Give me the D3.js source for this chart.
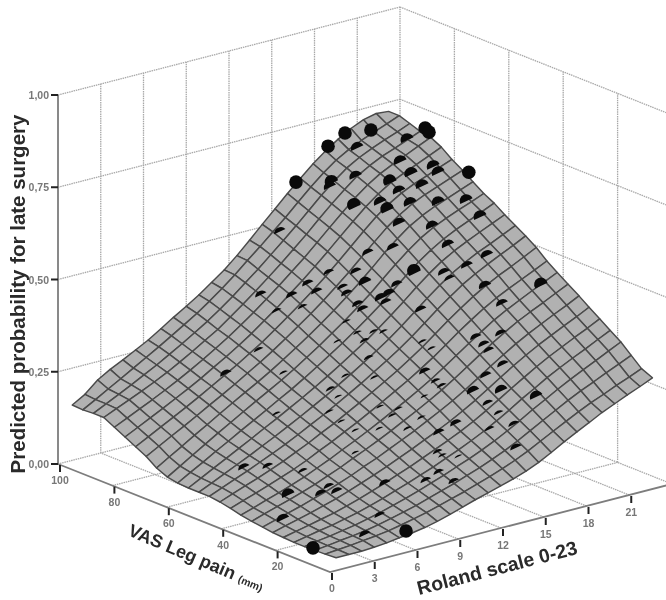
<!DOCTYPE html>
<html>
<head>
<meta charset="utf-8">
<style>
html, body { margin: 0; padding: 0; background: #fff; overflow: hidden; }
svg { display: block; filter: blur(0.35px); font-family: "Liberation Sans", Arial, sans-serif; }
</style>
<script src="https://cdn.jsdelivr.net/npm/d3@7"></script>
</head>
<body>
<div id="chart"></div>
<script>
const rolandTicks = [0, 3, 6, 9, 12, 15, 18, 21];
const vasTicks = [0, 20, 40, 60, 80, 100];
const probTicks = [0, 0.25, 0.5, 0.75, 1];
const probLabels = ['0,00', '0,25', '0,50', '0,75', '1,00'];

// mesh lines of the fitted surface
const rolandGrid = [1, 1.89, 2.78, 3.66, 4.55, 5.44, 6.33, 7.22, 8.1, 9, 9.88, 10.77, 11.66, 12.55, 13.44, 14.33, 15.22, 16.1, 17, 17.9, 18.77, 19.66, 20.55, 21.44, 22.33, 23.2];
const vasGrid = [100, 96.1, 92.2, 88.4, 84.5, 80.6, 76.7, 72.8, 69, 65, 61.2, 57.3, 53.4, 49.6, 45.7, 41.8, 38, 34, 30, 26.3, 22.4, 18.5, 14.6, 10.8, 7, 3];

// predicted probability, one row per vasGrid value, one column per rolandGrid value
const surface = [
[.15,.17,.20,.22,.237,.255,.273,.295,.317,.338,.36,.385,.41,.44,.473,.507,.54,.573,.605,.636,.662,.685,.705,.72,.728,.725],
[.148,.167,.187,.206,.226,.246,.266,.287,.308,.33,.354,.38,.408,.438,.467,.498,.528,.561,.593,.623,.648,.668,.684,.698,.711,.725],
[.15,.167,.184,.201,.219,.237,.257,.277,.298,.32,.344,.37,.398,.426,.456,.486,.517,.549,.582,.612,.638,.658,.674,.688,.701,.715],
[.15,.165,.18,.195,.211,.228,.247,.267,.288,.309,.334,.36,.387,.415,.444,.474,.505,.538,.57,.60,.627,.647,.664,.677,.691,.705],
[.135,.151,.167,.183,.20,.218,.237,.257,.278,.30,.324,.349,.376,.404,.433,.462,.494,.526,.558,.589,.615,.637,.654,.669,.685,.70],
[.12,.137,.154,.171,.189,.207,.226,.247,.267,.289,.312,.338,.364,.392,.42,.45,.481,.513,.545,.576,.602,.624,.64,.655,.67,.685],
[.105,.123,.141,.159,.177,.196,.216,.236,.256,.278,.30,.325,.351,.377,.405,.434,.465,.497,.53,.561,.586,.607,.623,.636,.65,.663],
[.09,.109,.128,.146,.165,.185,.204,.224,.245,.266,.288,.312,.337,.362,.389,.418,.448,.48,.512,.543,.568,.589,.605,.618,.632,.645],
[.07,.091,.111,.132,.152,.173,.193,.213,.232,.253,.275,.298,.322,.347,.373,.401,.43,.461,.494,.523,.549,.569,.585,.598,.612,.625],
[.057,.078,.099,.12,.141,.161,.181,.201,.22,.24,.261,.284,.307,.332,.357,.384,.412,.443,.474,.503,.528,.548,.564,.578,.591,.605],
[.052,.072,.091,.111,.13,.15,.169,.188,.208,.227,.248,.27,.293,.316,.341,.367,.394,.424,.454,.483,.507,.528,.545,.56,.575,.59],
[.05,.068,.086,.104,.122,.14,.159,.177,.196,.215,.235,.256,.278,.301,.324,.35,.377,.405,.435,.463,.487,.507,.524,.54,.555,.57],
[.05,.066,.082,.098,.114,.131,.148,.166,.184,.203,.222,.243,.264,.286,.309,.333,.359,.387,.416,.443,.467,.487,.505,.52,.536,.552],
[.05,.064,.078,.092,.107,.122,.138,.155,.173,.191,.21,.23,.25,.272,.294,.317,.342,.369,.397,.423,.447,.467,.485,.502,.518,.535],
[.046,.059,.072,.084,.098,.112,.128,.144,.162,.179,.198,.217,.237,.257,.278,.301,.325,.351,.378,.403,.426,.447,.465,.481,.498,.515],
[.04,.052,.064,.076,.089,.102,.117,.134,.15,.168,.185,.204,.223,.243,.263,.285,.308,.333,.359,.383,.405,.425,.442,.458,.474,.49],
[.033,.044,.056,.067,.079,.092,.107,.122,.139,.155,.172,.19,.209,.227,.247,.268,.291,.315,.339,.363,.385,.404,.421,.438,.454,.47],
[.028,.039,.05,.06,.072,.084,.098,.112,.128,.143,.159,.176,.194,.212,.231,.251,.273,.296,.32,.343,.364,.384,.401,.417,.434,.45],
[.024,.034,.044,.054,.065,.076,.089,.102,.117,.131,.147,.163,.179,.197,.215,.234,.255,.277,.301,.323,.344,.363,.38,.397,.413,.43],
[.02,.029,.038,.047,.057,.067,.079,.092,.105,.119,.134,.149,.165,.181,.198,.217,.237,.259,.282,.304,.324,.343,.36,.377,.393,.41],
[.018,.026,.033,.041,.049,.059,.07,.082,.094,.108,.121,.136,.151,.166,.182,.20,.22,.241,.263,.284,.304,.323,.34,.357,.373,.39],
[.016,.023,.03,.036,.044,.052,.062,.073,.085,.097,.11,.123,.138,.152,.168,.185,.204,.224,.246,.266,.286,.304,.321,.337,.354,.37],
[.016,.022,.027,.033,.039,.047,.056,.066,.076,.088,.10,.112,.126,.139,.154,.17,.188,.207,.228,.247,.266,.284,.301,.317,.334,.35],
[.017,.021,.026,.03,.035,.042,.05,.059,.068,.079,.09,.101,.114,.126,.14,.155,.172,.191,.21,.229,.247,.264,.279,.295,.31,.325],
[.018,.021,.024,.028,.032,.037,.044,.052,.06,.07,.08,.09,.102,.113,.126,.14,.156,.174,.192,.21,.227,.243,.257,.272,.286,.30],
[.02,.02,.02,.022,.025,.03,.034,.04,.048,.058,.069,.08,.09,.10,.11,.122,.137,.155,.175,.193,.21,.228,.243,.258,.272,.287]
];

// patients: Roland score, VAS leg pain, predicted probability, share of the marker above the surface
const dotRoland = [1.67,6.29,16.7,18.95,20.14,21.96,22.9,23.17,23.1,14.55,19.96,22.5,17.2,17.1,18.9,21.07,19.4,20.04,20.88,20.7,22.43,21.82,17.84,18.71,18.25,19.86,20.87,21.88,21.9,18.13,19.5,19.66,16.76,15.96,20.49,19.09,17.28,18.43,17.89,19.4,15.12,14.18,14.79,16.08,12.7,14.2,13.33,21.4,11.31,12.53,14.48,12.35,11.48,15.92,16.48,15.31,14.3,14.65,16.81,19.64,13.53,13.35,13.52,14.22,12.88,11.94,15.05,15.68,9.26,12.21,17.81,18.61,17.42,17.77,17.8,16.6,14.23,9.11,6.95,10.6,11.68,14.05,13.52,14.74,15.75,17.25,9.54,10.1,13.28,14.84,11.14,11.45,14.65,8.52,6.71,11.03,12.11,12.59,8.41,14.75,14.02,10.12,11.13,11.4,8.44,13.94,10.37,10.72,10.89,7.48,9.49,7.61,8.58,9.59,5.19,5.35,4.29,3.44,4.17,4.72,3.66,5.02,5.59,2.36];
const dotVas = [15,5,100,100,100,100,85,85,70,95,95,90,90,90,90,85,80,80,80,75,80,75,85,80,75,75,70,65,60,70,65,60,65,70,50,50,60,55,50,45,70,75,65,60,75,70,75,35,85,80,70,75,80,65,65,60,65,65,55,40,65,60,55,55,55,60,45,45,75,50,40,35,35,35,30,30,40,65,75,50,45,35,30,25,20,15,50,50,35,20,40,35,15,45,55,35,30,20,40,10,15,35,30,20,35,5,15,15,10,30,10,20,10,5,25,10,10,50,45,35,35,30,30,30];
const dotProb = [.005,.034,.598,.673,.697,.687,.727,.713,.649,.505,.68,.692,.63,.616,.627,.661,.638,.605,.645,.629,.649,.653,.574,.588,.589,.589,.596,.606,.577,.566,.559,.521,.527,.506,.514,.499,.474,.472,.475,.456,.463,.455,.454,.448,.44,.429,.412,.471,.395,.395,.41,.379,.362,.399,.405,.407,.397,.38,.387,.42,.356,.342,.358,.351,.34,.332,.345,.32,.293,.315,.346,.363,.345,.325,.302,.284,.289,.261,.253,.282,.281,.278,.285,.276,.283,.267,.257,.23,.243,.255,.222,.228,.244,.22,.203,.214,.212,.223,.209,.228,.207,.187,.192,.21,.199,.188,.181,.167,.177,.163,.15,.11,.137,.139,.098,.075,.034,.107,.117,.127,.078,.079,.092,.038];
const dotShown = [1,1,1,1,1,1,1,1,1,.3,.45,.5,.6,.4,.45,.5,.65,.45,.55,.5,.5,.5,.7,.45,.65,.5,.5,.5,.5,.45,.45,.4,.35,.3,.4,.35,.7,.35,.25,.4,.3,.25,.45,.3,.3,.25,.3,.6,.3,.3,.3,.2,.2,.4,.4,.3,.3,.3,.3,.35,.15,.15,.15,.15,.2,.12,.15,.15,.2,.2,.3,.3,.3,.25,.3,.3,.3,.15,.3,.15,.15,.2,.2,.4,.45,.45,.2,.12,.12,.25,.12,.15,.2,.15,.15,.15,.15,.3,.12,.25,.2,.12,.15,.3,.12,.3,.2,.15,.12,.12,.25,.3,.25,.25,.3,.25,.3,.3,.25,.2,.5,.3,.25,.4];

var width = 666,
    height = 600,
    dotRadius = 6.8;

// the box is drawn without perspective, each data axis adds a fixed screen offset
var originX = 330, originY = 572;
var rolandToX = d3.scaleLinear().domain([0, 24]).range([0, 342]);
var rolandToY = d3.scaleLinear().domain([0, 24]).range([0, -88]);
var vasToX = d3.scaleLinear().domain([0, 100]).range([0, -272]);
var vasToY = d3.scaleLinear().domain([0, 100]).range([0, -108]);
var probToY = d3.scaleLinear().domain([0, 1]).range([0, -369]);

function project(r, v, p) {
  return [originX + rolandToX(r) + vasToX(v), originY + rolandToY(r) + vasToY(v) + probToY(p)];
}

var svg = d3.select('#chart').append('svg')
  .attr('width', width)
  .attr('height', height);

var polyLine = d3.line();

function wallLine(a, b) {
  svg.append('path')
    .attr('d', polyLine([a, b]))
    .attr('fill', 'none')
    .attr('stroke', '#a8a8a8')
    .attr('stroke-width', 1.3)
    .attr('stroke-dasharray', '1.5 0.8');
}

// back walls
probTicks.slice(1).forEach(function(p) {
  wallLine(project(0, 100, p), project(24, 100, p));
  wallLine(project(24, 100, p), project(24, 0, p));
});
rolandTicks.slice(1).concat([24]).forEach(function(r) {
  wallLine(project(r, 100, 0), project(r, 100, 1));
});
vasTicks.slice(1, -1).forEach(function(v) {
  wallLine(project(24, v, 0), project(24, v, 1));
});

// floor
wallLine(project(24, 100, 0), project(0, 100, 0));
wallLine(project(24, 100, 0), project(24, 0, 0));
rolandTicks.slice(1).forEach(function(r) {
  wallLine(project(r, 0, 0), project(r, 100, 0));
});
vasTicks.slice(1, -1).forEach(function(v) {
  wallLine(project(0, v, 0), project(24, v, 0));
});

// axis lines
var axisColor = '#7d7d7d';
svg.append('path')
  .attr('d', polyLine([project(0, 100, 1), project(0, 100, 0), project(0, 0, 0), project(24, 0, 0)]))
  .attr('fill', 'none')
  .attr('stroke', axisColor)
  .attr('stroke-width', 1.8);

// surface, painted from the back corner to the front
var meshCells = svg.append('g').attr('class', 'surface');
d3.range(vasGrid.length - 1).forEach(function(k) {
  d3.range(rolandGrid.length - 2, -1, -1).forEach(function(i) {
    var corners = [
      project(rolandGrid[i], vasGrid[k], surface[k][i]),
      project(rolandGrid[i + 1], vasGrid[k], surface[k][i + 1]),
      project(rolandGrid[i + 1], vasGrid[k + 1], surface[k + 1][i + 1]),
      project(rolandGrid[i], vasGrid[k + 1], surface[k + 1][i])
    ];
    meshCells.append('path')
      .attr('d', polyLine(corners) + 'Z')
      .attr('fill', '#b1b1b1')
      .attr('stroke', '#4a4a4a')
      .attr('stroke-width', 1.45)
      .attr('stroke-linejoin', 'round');
  });
});

// markers: only the part above the surface shows, a cap with its flat side along the mesh
var capAngle = -115 * Math.PI / 180;
svg.append('g').attr('class', 'dots')
  .selectAll('path')
  .data(dotRoland)
  .enter()
  .append('path')
  .attr('d', function(d, i) {
    var p = project(d, dotVas[i], dotProb[i]);
    var shown = dotShown[i];
    var capHeight = 2 * dotRadius * shown;
    var back = dotRadius - capHeight / 2;
    var cx = p[0] - Math.cos(capAngle) * back;
    var cy = p[1] - Math.sin(capAngle) * back;
    var ctx = d3.path();
    if (shown >= 1) {
      ctx.arc(cx, cy, dotRadius, 0, 2 * Math.PI);
    } else {
      var spread = Math.acos(1 - 2 * shown);
      ctx.arc(cx, cy, dotRadius, capAngle - spread, capAngle + spread);
      ctx.closePath();
    }
    return ctx.toString();
  })
  .attr('fill', '#0a0a0a');

// ticks and tick labels
var tickColor = '#222';
var labelColor = '#777';

function tickMark(a, b) {
  svg.append('path')
    .attr('d', polyLine([a, b]))
    .attr('stroke', tickColor)
    .attr('stroke-width', 2);
}

function tickLabel(x, y, txt, anchor) {
  svg.append('text')
    .attr('x', x)
    .attr('y', y)
    .attr('text-anchor', anchor)
    .attr('font-size', 10.5)
    .attr('font-weight', 'bold')
    .attr('fill', labelColor)
    .text(txt);
}

probTicks.forEach(function(p, i) {
  var at = project(0, 100, p);
  tickMark([at[0] - 7, at[1]], at);
  tickLabel(at[0] - 9, at[1] + 4, probLabels[i], 'end');
});
vasTicks.forEach(function(v) {
  var at = project(0, v, 0);
  tickMark([at[0] + 2, at[1] + 1], [at[0] + 2, at[1] + 8]);
  tickLabel(at[0] + 2, at[1] + 20, v, 'middle');
});
rolandTicks.slice(1).forEach(function(r) {
  var at = project(r, 0, 0);
  tickMark([at[0] + 2, at[1] + 1], [at[0] + 2, at[1] + 8]);
  tickLabel(at[0] + 2, at[1] + 21, r, 'middle');
});

// axis titles
svg.append('text')
  .attr('transform', 'translate(25,294) rotate(-90)')
  .attr('text-anchor', 'middle')
  .attr('font-size', 20.5)
  .attr('font-weight', 'bold')
  .attr('fill', '#2a2a2a')
  .text('Predicted probability for late surgery');

var vasTitle = svg.append('text')
  .attr('transform', 'translate(127,535) rotate(23)')
  .attr('font-size', 18)
  .attr('font-weight', 'bold')
  .attr('fill', '#2a2a2a');
vasTitle.append('tspan').text('VAS Leg pain ');
vasTitle.append('tspan').attr('font-size', 10.5).text('(mm)');

svg.append('text')
  .attr('transform', 'translate(419,595) rotate(-14.5)')
  .attr('font-size', 19.5)
  .attr('font-weight', 'bold')
  .attr('fill', '#2a2a2a')
  .text('Roland scale 0-23');
</script>
</body>
</html>
